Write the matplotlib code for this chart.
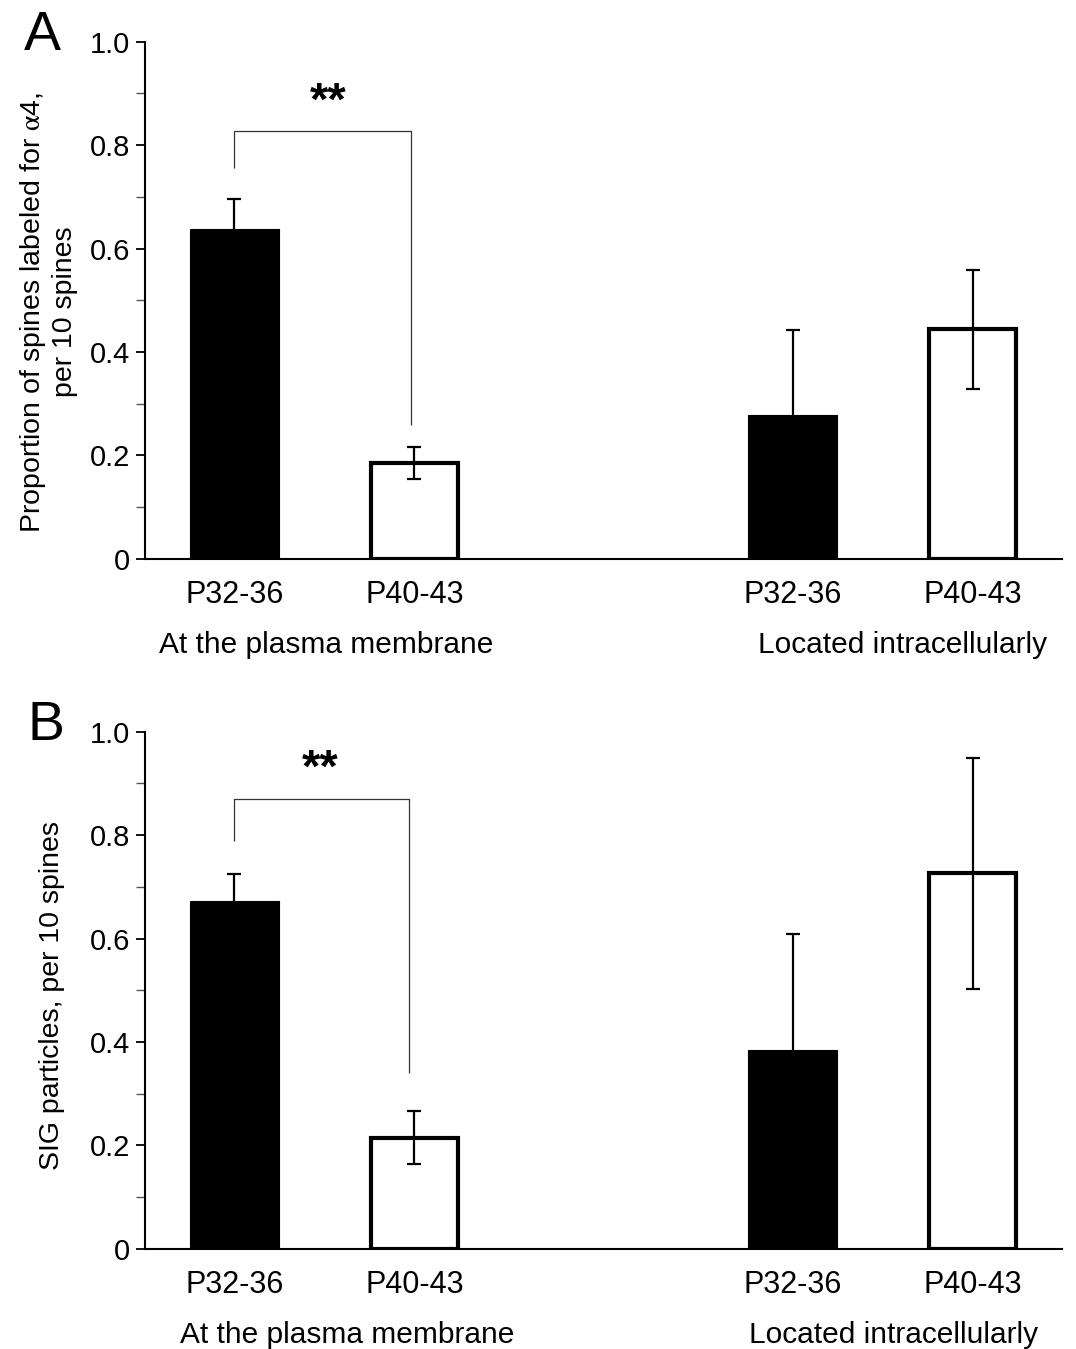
import matplotlib
matplotlib.use("Agg")
import matplotlib.pyplot as plt
import numpy as np

plt.rcParams['font.family'] = ['Liberation Sans', 'DejaVu Sans']
plt.rcParams['mathtext.fontset'] = 'stix'

# ---- data ----
tick_labels = ["P32-36", "P40-43", "P32-36", "P40-43"]
group_labels = ["At the plasma membrane", "Located intracellularly"]

a_values = [0.638, 0.185, 0.277, 0.444]
a_errors = [0.058, 0.031, 0.165, 0.115]

b_values = [0.672, 0.215, 0.384, 0.726]
b_errors = [0.053, 0.052, 0.225, 0.224]

y_ticks = [0, 0.2, 0.4, 0.6, 0.8, 1.0]
y_tick_labels = ["0", "0.2", "0.4", "0.6", "0.8", "1.0"]
y_minor = [0.1, 0.3, 0.5, 0.7, 0.9]

positions = [0, 1, 3.1, 4.1]
fills = ["black", "white", "black", "white"]

W, H = 1076, 1349
fig = plt.figure(figsize=(W / 100, H / 100), dpi=100)

def make_panel(rect, values, errors, ylabel, label_xy, bracket, stars, group_pos, letter, letter_xy):
    ax = fig.add_axes(rect)
    for x, v, e, c in zip(positions, values, errors, fills):
        if c == "black":
            ax.bar(x, v, width=0.49, color="black", edgecolor="black", linewidth=0.8, zorder=2)
        else:
            ax.bar(x, v, width=0.485, color="white", edgecolor="black", linewidth=3.0, zorder=2)
        ax.errorbar(x, v, yerr=e, fmt="none", ecolor="black", elinewidth=1.6,
                    capsize=4.7, capthick=1.6, zorder=3)
    ax.set_xlim(-0.497, 4.597)
    ax.set_ylim(0, 1.0)
    for s in ["top", "right"]:
        ax.spines[s].set_visible(False)
    ax.spines["left"].set_linewidth(1.5)
    ax.spines["bottom"].set_linewidth(1.5)
    ax.set_yticks(y_ticks)
    ax.set_yticklabels(y_tick_labels)
    ax.set_yticks(y_minor, minor=True)
    ax.tick_params(axis="y", which="major", direction="out", length=6.5, width=1.3,
                   labelsize=21, pad=4)
    ax.tick_params(axis="y", which="minor", direction="out", length=6.5, width=1.0,
                   color="#555555")
    ax.set_xticks(positions)
    ax.set_xticklabels(tick_labels)
    ax.tick_params(axis="x", length=0, labelsize=22, pad=15)
    ax.set_ylabel(ylabel, fontsize=20.5, linespacing=1.2)
    ax.yaxis.set_label_coords(*label_xy)
    # bracket
    bx0, bx1, ytop, yl, yr = bracket
    ax.plot([bx0, bx0, bx1, bx1], [yl, ytop, ytop, yr], color="#333333", lw=0.9,
            zorder=1, solid_capstyle="butt")
    ax.text(stars[0], stars[1], "**", fontsize=34, fontweight="bold", ha="center",
            va="center")
    trans = ax.get_xaxis_transform()
    for gx, gl in zip(group_pos, group_labels):
        ax.text(gx, -0.182, gl, fontsize=21.5, ha="center", va="baseline", transform=trans)
    fig.text(letter_xy[0], letter_xy[1], letter, fontsize=40, ha="left", va="top")
    return ax

make_panel([145 / W, 1 - 558.7 / H, 917 / W, 517 / H], a_values, a_errors,
           "Proportion of spines labeled for $\\mathrm{\\alpha}$4,\nper 10 spines", (-0.073, 0.477),
           (0, 0.98, 0.827, 0.755, 0.259), (0.52, 0.882), (0.51, 3.71),
           "A", (24 / W, 1 - 10 / H))

make_panel([145 / W, 1 - 1248.7 / H, 917 / W, 517 / H], b_values, b_errors,
           "SIG particles, per 10 spines", (-0.087, 0.49),
           (0, 0.97, 0.869, 0.789, 0.340), (0.475, 0.927), (0.625, 3.664),
           "B", (28 / W, 1 - 700 / H))

fig.savefig("out.png", dpi=100)
